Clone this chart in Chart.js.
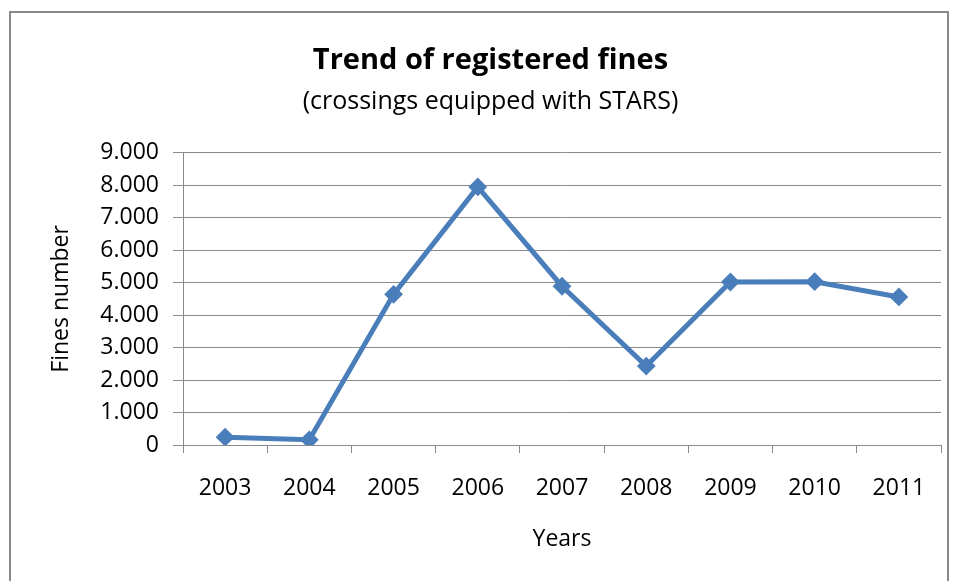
<!DOCTYPE html>
<html>
<head>
<meta charset="utf-8">
<script src="https://cdn.jsdelivr.net/npm/chart.js@4.4.0/dist/chart.umd.min.js"></script>
<style>
    html, body { margin: 0; padding: 0; background: #fff; }
    #wrap { width: 955px; height: 581px; position: relative; }
</style>
</head>
<body>
<div id="wrap"><canvas id="finesChart"></canvas></div>
<script>
const years = ['2003', '2004', '2005', '2006', '2007', '2008', '2009', '2010', '2011'];
const finesCount = [240, 160, 4640, 7950, 4890, 2430, 5020, 5030, 4560];
const yTicks = [0, 1000, 2000, 3000, 4000, 5000, 6000, 7000, 8000, 9000];

const fontFamily = '"Open Sans", "Noto Sans", sans-serif';

// grey frame round the whole chart
const frame = {
    id: 'frame',
    beforeDraw(chart) {
        const ctx = chart.ctx;
        ctx.save();
        ctx.fillStyle = '#fff';
        ctx.fillRect(0, 0, chart.width, chart.height);
        ctx.strokeStyle = '#8a8a8a';
        ctx.lineWidth = 2;
        ctx.strokeRect(10, 12, 938, 620);
        ctx.restore();
    }
};

const fmt = v => String(v).replace(/\B(?=(\d{3})+(?!\d))/g, '.');

new Chart(document.getElementById('finesChart'), {
    type: 'line',
    data: {
        labels: years,
        datasets: [{
            label: 'Fines',
            data: finesCount,
            borderColor: '#4A7EBB',
            backgroundColor: '#4A7EBB',
            borderWidth: 5,
            tension: 0,
            pointStyle: 'rectRot',
            pointRadius: 8,
            pointBorderWidth: 2,
            pointHoverRadius: 8
        }]
    },
    options: {
        responsive: true,
        maintainAspectRatio: false,
        animation: false,
        layout: { padding: { left: 40, right: 14, top: 0, bottom: 0 } },
        plugins: {
            legend: { display: false },
            tooltip: { enabled: false },
            title: {
                display: true,
                text: 'Trend of registered fines',
                color: '#000',
                font: { family: fontFamily, size: 29, weight: 'bold' },
                padding: { top: 43, bottom: 9 }
            },
            subtitle: {
                display: true,
                text: '(crossings equipped with STARS)',
                color: '#000',
                font: { family: fontFamily, size: 25 },
                padding: { top: 0, bottom: 36 }
            }
        },
        scales: {
            x: {
                offset: true,
                grid: {
                    offset: true,
                    drawOnChartArea: false,
                    drawTicks: true,
                    tickLength: 8,
                    color: '#8a8a8a'
                },
                border: { color: '#8a8a8a', width: 1 },
                ticks: {
                    color: '#000',
                    padding: 22,
                    font: { family: fontFamily, size: 23 },
                    maxRotation: 0
                },
                title: {
                    display: true,
                    text: 'Years',
                    color: '#000',
                    font: { family: fontFamily, size: 23 },
                    padding: { top: 0, bottom: 28 }
                },
                afterFit(scale) { scale.height = 136; }
            },
            y: {
                min: 0,
                max: 9000,
                afterBuildTicks(scale) { scale.ticks = yTicks.map(v => ({ value: v })); },
                grid: {
                    color: '#8a8a8a',
                    tickLength: 10
                },
                border: { color: '#8a8a8a', width: 1 },
                ticks: {
                    color: '#000',
                    padding: 14,
                    font: { family: fontFamily, size: 23 },
                    callback: v => fmt(v)
                },
                title: {
                    display: true,
                    text: 'Fines number',
                    color: '#000',
                    font: { family: fontFamily, size: 23 },
                    padding: { top: 8, bottom: 0 }
                },
                afterFit(scale) { scale.width = 143; }
            }
        }
    },
    plugins: [frame]
});
</script>
</body>
</html>
